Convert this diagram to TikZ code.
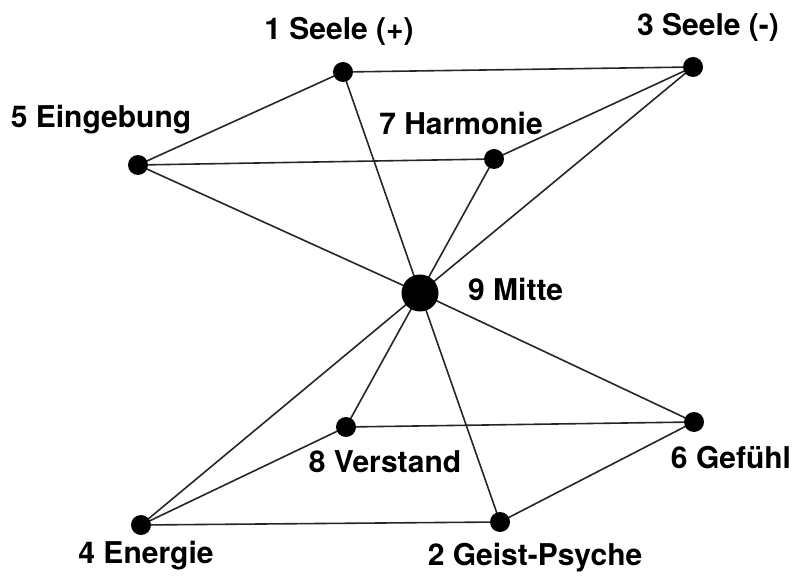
\documentclass[tikz,border=0pt]{standalone}
\usepackage{fontspec}
\setmainfont{TeX Gyre Heros}
\begin{document}
\begin{tikzpicture}[x=1pt,y=-1pt,
  dot/.style={circle,fill=black,inner sep=0pt,minimum size=20pt},
  bigdot/.style={circle,fill=black,inner sep=0pt,minimum size=37pt},
  lbl/.style={anchor=base,inner sep=0pt,font=\fontsize{30}{30}\selectfont\bfseries},
  edge/.style={line width=1.6pt,draw=black!85}]
\useasboundingbox (0,0) rectangle (792,577);
\coordinate (n1) at (343,72);
\coordinate (n3) at (693,67);
\coordinate (n5) at (138,165);
\coordinate (n7) at (494,159);
\coordinate (n9) at (420,293);
\coordinate (n8) at (346,427);
\coordinate (n6) at (694,422);
\coordinate (n4) at (141,525);
\coordinate (n2) at (500,522);
\foreach \a/\b in {n1/n3,n1/n5,n1/n9,n3/n7,n3/n9,n5/n7,n5/n9,n7/n9,n9/n4,n9/n8,n9/n2,n9/n6,n8/n6,n8/n4,n4/n2,n2/n6}
  \draw[edge] (\a) -- (\b);
\node[dot] (d1) at (n1) {};
\node[dot] (d3) at (n3) {};
\node[dot] (d5) at (n5) {};
\node[dot] (d7) at (n7) {};
\node[bigdot] (d9) at (n9) {};
\node[dot] (d8) at (n8) {};
\node[dot] (d6) at (n6) {};
\node[dot] (d4) at (n4) {};
\node[dot] (d2) at (n2) {};
\node[lbl] (t1) at (339,40) {1 Seele (+)};
\node[lbl] (t3) at (708,36) {3 Seele (-)};
\node[lbl] (t5) at (101,128) {5 Eingebung};
\node[lbl] (t7) at (461,135) {7 Harmonie};
\node[lbl,anchor=base west] (t9) at (468,301) {9 Mitte};
\node[lbl] (t8) at (385,472) {8 Verstand};
\node[lbl] (t6) at (731,468) {6 Gefühl};
\node[lbl] (t4) at (146,563) {4 Energie};
\node[lbl] (t2) at (535,565) {2 Geist-Psyche};
\end{tikzpicture}
\end{document}
